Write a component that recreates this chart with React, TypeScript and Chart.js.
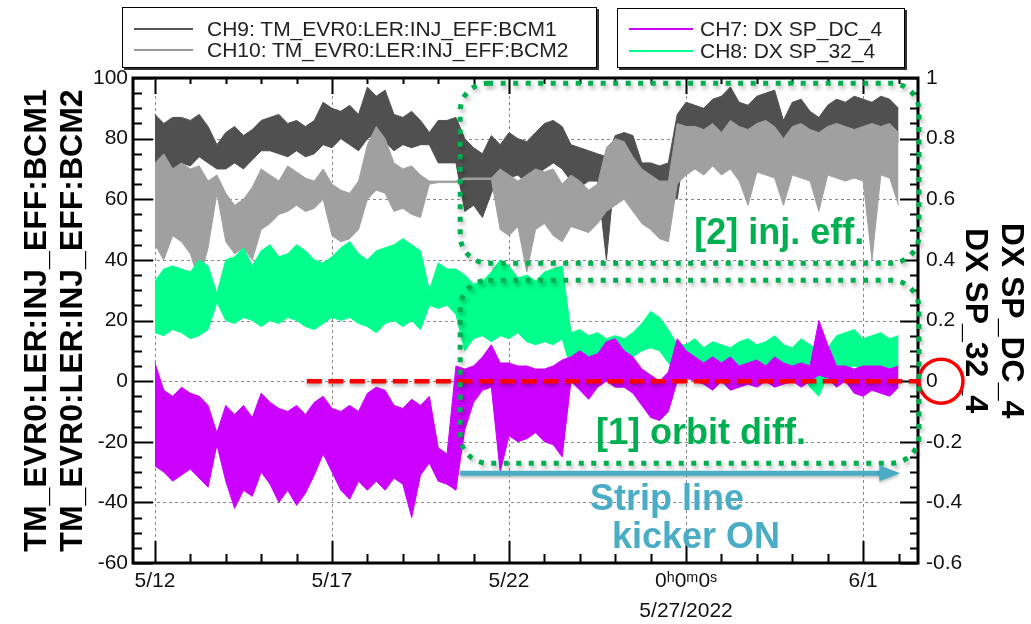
import React, { useEffect, useRef } from "react";
import { Chart, registerables } from "chart.js";

Chart.register(...registerables);

// ---- time bins: day offset from 5/12/2022 00:00, one bin every 6 h ----
const BIN_START_DAY = 0;
const BIN_STEP_DAY = 0.25;

// ---- CH9: TM_EVR0:LER:INJ_EFF:BCM1 (left axis, %) : per-bin max / min ----
const CH9_HI = [88, 85, 87, 87, 86, 88, 84, 78, 82, 84, 81, 83, 86, 87, 88, 85, 86, 84, 86, 92, 90, 89, 91, 88, 97, 94, 96, 88, 87, 89, 86, 82, 86, 86, 87, 80, 77, 75, 81, 78, 82, 80, 79, 82, 85, 86, 84, 78, 77, 76, 75, 74, 81, 82, 81, 72, 72, 71, 72, 88, 92, 91, 90, 93, 94, 97, 92, 91, 94, 95, 96, 86, 92, 93, 89, 87, 91, 93, 92, 94, 93, 92, 94, 93, 90];
const CH9_LO = [68, 66, 70, 72, 71, 74, 72, 70, 70, 72, 70, 73, 76, 76, 75, 74, 76, 74, 75, 78, 77, 80, 78, 76, 80, 82, 79, 76, 78, 77, 78, 78, 72, 72, 72, 56, 58, 54, 62, 68, 67, 68, 65, 68, 70, 72, 70, 66, 64, 66, 66, 40, 70, 74, 70, 66, 66, 64, 62, 60, 80, 80, 81, 80, 81, 82, 80, 79, 81, 80, 78, 74, 79, 80, 77, 76, 80, 81, 80, 81, 80, 81, 80, 79, 79];

// ---- CH10: TM_EVR0:LER:INJ_EFF:BCM2 (left axis, %) ----
const CH10_HI = [72, 75, 70, 72, 70, 71, 66, 68, 62, 58, 60, 64, 70, 68, 66, 71, 69, 67, 66, 70, 65, 63, 62, 66, 78, 84, 80, 72, 70, 71, 68, 66, 66, 66, 66, 67, 67, 67, 67, 70, 68, 66, 68, 70, 69, 70, 65, 68, 66, 63, 65, 77, 80, 79, 74, 70, 68, 66, 66, 85, 84, 84, 83, 85, 82, 86, 84, 83, 85, 86, 84, 80, 84, 85, 83, 82, 84, 85, 84, 83, 84, 85, 84, 85, 82];
const CH10_LO = [45, 40, 48, 46, 42, 33, 44, 62, 46, 42, 44, 40, 50, 52, 55, 56, 58, 56, 57, 60, 48, 46, 47, 50, 60, 63, 62, 56, 57, 55, 54, 65, 65.5, 65.5, 65.5, 66.5, 66.5, 66.5, 66.5, 50, 48, 51, 36, 50, 52, 48, 46, 51, 50, 49, 52, 56, 58, 60, 56, 52, 50, 47, 46, 65, 68, 70, 68, 71, 68, 70, 66, 58, 69, 68, 67, 58, 68, 67, 66, 56, 68, 67, 66, 67, 66, 40, 68, 67, 58];

// ---- CH7: DX SP_DC_4 (right axis) ----
const CH7_HI = [0.06, -0.03, -0.05, -0.02, -0.04, -0.05, -0.08, -0.17, -0.08, -0.11, -0.08, -0.12, -0.04, -0.07, -0.09, -0.10, -0.08, -0.11, -0.07, -0.05, -0.09, -0.10, -0.08, -0.10, -0.04, -0.02, -0.03, -0.08, -0.09, -0.06, -0.08, -0.05, -0.22, -0.24, 0.05, 0.04, 0.05, 0.08, 0.12, 0.06, 0.06, 0.05, 0.05, 0.04, 0.04, 0.05, 0.07, 0.08, 0.10, 0.08, 0.09, 0.13, 0.14, 0.10, 0.08, 0.04, 0.02, 0.00, 0.03, 0.14, 0.10, 0.08, 0.06, 0.08, 0.06, 0.08, 0.05, 0.06, 0.07, 0.05, 0.08, 0.06, 0.05, 0.06, 0.05, 0.20, 0.12, 0.05, 0.05, 0.04, 0.05, 0.05, 0.05, 0.04, 0.05];
const CH7_LO = [-0.28, -0.30, -0.33, -0.31, -0.29, -0.32, -0.35, -0.21, -0.33, -0.42, -0.36, -0.38, -0.30, -0.34, -0.40, -0.36, -0.41, -0.37, -0.31, -0.24, -0.30, -0.36, -0.39, -0.33, -0.36, -0.33, -0.36, -0.32, -0.34, -0.45, -0.31, -0.27, -0.33, -0.34, -0.36, -0.16, -0.07, -0.03, -0.02, -0.30, -0.18, -0.20, -0.19, -0.17, -0.20, -0.21, -0.25, 0.00, -0.03, -0.06, -0.02, 0.00, -0.02, -0.02, -0.04, -0.08, -0.12, -0.13, -0.10, 0.00, 0.01, 0.00, -0.01, -0.03, 0.00, -0.03, -0.02, -0.01, -0.02, 0.00, -0.02, -0.01, 0.00, -0.02, 0.00, 0.02, 0.01, -0.02, 0.00, -0.04, -0.05, -0.03, -0.04, -0.05, -0.02];

// ---- CH8: DX SP_32_4 (right axis) ----
const CH8_HI = [0.33, 0.37, 0.38, 0.37, 0.36, 0.40, 0.38, 0.29, 0.40, 0.41, 0.44, 0.38, 0.43, 0.45, 0.41, 0.42, 0.45, 0.43, 0.40, 0.39, 0.41, 0.44, 0.46, 0.42, 0.40, 0.43, 0.44, 0.45, 0.47, 0.45, 0.43, 0.30, 0.39, 0.37, 0.37, 0.35, 0.32, 0.33, 0.36, 0.40, 0.38, 0.34, 0.35, 0.33, 0.36, 0.37, 0.38, 0.16, 0.17, 0.15, 0.16, 0.14, 0.15, 0.14, 0.16, 0.19, 0.23, 0.21, 0.17, 0.12, 0.12, 0.14, 0.11, 0.13, 0.12, 0.11, 0.13, 0.14, 0.12, 0.13, 0.15, 0.12, 0.11, 0.14, 0.12, 0.10, 0.11, 0.15, 0.16, 0.17, 0.14, 0.15, 0.16, 0.14, 0.15];
const CH8_LO = [0.16, 0.15, 0.17, 0.16, 0.14, 0.15, 0.17, 0.26, 0.20, 0.19, 0.21, 0.20, 0.18, 0.20, 0.19, 0.21, 0.20, 0.18, 0.17, 0.19, 0.21, 0.20, 0.21, 0.19, 0.18, 0.16, 0.19, 0.20, 0.18, 0.20, 0.17, 0.25, 0.24, 0.25, 0.22, 0.10, 0.14, 0.15, 0.13, 0.15, 0.14, 0.16, 0.13, 0.12, 0.13, 0.12, 0.14, 0.04, 0.05, 0.05, 0.06, 0.04, 0.07, 0.06, 0.08, 0.10, 0.11, 0.10, 0.06, 0.03, 0.04, 0.05, 0.04, 0.06, 0.05, 0.03, 0.05, 0.04, 0.05, 0.03, 0.04, 0.05, 0.03, 0.04, -0.02, -0.05, 0.02, 0.05, 0.04, 0.05, 0.04, 0.05, 0.05, 0.04, 0.05];

// ---- axes ----
const X_MIN_DAY = -0.62;
const X_MAX_DAY = 21.55;
const X_TICK_DAYS = [0, 5, 10, 15, 20];
const X_TICK_LABELS: (string | string[])[] = ["5/12", "5/17", "5/22", ["0\u02B00\u1D500\u02E2", "5/27/2022"], "6/1"];
const X_MINOR_STEP = 1;
const Y_TICKS = [-60, -40, -20, 0, 20, 40, 60, 80, 100];
const Y_LABELS = ["-60", "-40", "-20", "0", "20", "40", "60", "80", "100"];
const Y_MINOR_STEP = 5;
const Y2_TICKS = [-0.6, -0.4, -0.2, 0, 0.2, 0.4, 0.6, 0.8, 1];
const Y2_LABELS = ["-0.6", "-0.4", "-0.2", "0", "0.2", "0.4", "0.6", "0.8", "1"];
const Y_TITLE = ["TM_EVR0:LER:INJ_EFF:BCM1", "TM_EVR0:LER:INJ_EFF:BCM2"];
const Y2_TITLE = ["DX SP_DC_4", "DX SP_32_4"];

// ---- annotations (data coordinates: day, left-axis value) ----
const RED_LINE_START_DAY = 4.29;
const KICKER_ON_DAY = 8.62;
const ARROW_END_DAY = 21.05;
const ARROW_VALUE = -30.4;
const BOX_INJ = { top: 98.3, bottom: 38.9 };
const BOX_ORBIT = { top: 33.3, bottom: -27.1 };
const TEXT_INJ = { day: 17.63, value: 48.5, text: "[2] inj. eff." };
const TEXT_ORBIT = { day: 15.42, value: -17.5, text: "[1] orbit diff." };
const TEXT_STRIP = { day: 14.46, value: -39.3, text: "Strip line" };
const TEXT_KICKER = { day: 15.28, value: -51.8, text: "kicker ON" };

const DGRAY = "#505050";
const LGRAY = "#a0a0a0";
const PURPLE = "#cc00ff";
const GREEN = "#00ff8c";
const ANN_GREEN = "#00b050";
const ANN_BLUE = "#4bacc6";
const FONT = '"Liberation Sans", Arial, Helvetica, sans-serif';

function roundRectPath(ctx: CanvasRenderingContext2D, x0: number, y0: number, x1: number, y1: number, r: number) {
  ctx.beginPath();
  ctx.moveTo(x0 + r, y0);
  ctx.lineTo(x1 - r, y0);
  ctx.arcTo(x1, y0, x1, y0 + r, r);
  ctx.lineTo(x1, y1 - r);
  ctx.arcTo(x1, y1, x1 - r, y1, r);
  ctx.lineTo(x0 + r, y1);
  ctx.arcTo(x0, y1, x0, y1 - r, r);
  ctx.lineTo(x0, y0 + r);
  ctx.arcTo(x0, y0, x0 + r, y0, r);
  ctx.closePath();
}

const framePlugin = {
  id: "framePlugin",
  beforeDatasetsDraw(chart: any) {
    const { ctx, chartArea: a, scales } = chart;
    const x = scales.x, y = scales.y;
    ctx.save();
    ctx.strokeStyle = "#8a8a8a";
    ctx.lineWidth = 1;
    ctx.setLineDash([3, 3]);
    X_TICK_DAYS.forEach((d) => {
      const px = Math.round(x.getPixelForValue(d)) + 0.5;
      ctx.beginPath(); ctx.moveTo(px, a.top); ctx.lineTo(px, a.bottom); ctx.stroke();
    });
    Y_TICKS.forEach((v) => {
      if (v <= y.min || v >= y.max) return;
      const py = Math.round(y.getPixelForValue(v)) + 0.5;
      ctx.beginPath(); ctx.moveTo(a.left, py); ctx.lineTo(a.right, py); ctx.stroke();
    });
    ctx.restore();
  },
  afterDatasetsDraw(chart: any) {
    const { ctx, chartArea: a, scales } = chart;
    const x = scales.x, y = scales.y;
    ctx.save();
    // ticks
    ctx.strokeStyle = "#000";
    ctx.lineWidth = 2;
    for (let v = y.min; v <= y.max + 1e-9; v += Y_MINOR_STEP) {
      const py = Math.round(y.getPixelForValue(v)) + 0.5;
      const major = Math.abs(v % 20) < 1e-9;
      const L = major ? 20 : 9;
      const R = major ? 18 : 8;
      ctx.beginPath();
      ctx.moveTo(a.left, py); ctx.lineTo(a.left + L, py);
      ctx.moveTo(a.right, py); ctx.lineTo(a.right - R, py);
      ctx.stroke();
    }
    for (let d = Math.ceil(X_MIN_DAY); d <= X_MAX_DAY; d += X_MINOR_STEP) {
      const px = Math.round(x.getPixelForValue(d)) + 0.5;
      const major = d % 5 === 0;
      ctx.beginPath();
      ctx.moveTo(px, a.bottom); ctx.lineTo(px, a.bottom - (major ? 22 : 9));
      ctx.moveTo(px, a.top); ctx.lineTo(px, a.top + (major ? 16 : 6));
      ctx.stroke();
    }
    // frame
    ctx.lineWidth = 3;
    ctx.strokeRect(a.left, a.top, a.right - a.left, a.bottom - a.top);

    // red dashed zero line
    const y0 = y.getPixelForValue(0);
    ctx.save();
    ctx.shadowColor = "rgba(0,0,0,0.35)";
    ctx.shadowBlur = 4;
    ctx.shadowOffsetY = 2;
    ctx.strokeStyle = "#ff0000";
    ctx.lineWidth = 4.5;
    ctx.setLineDash([15, 6.5]);
    ctx.beginPath();
    ctx.moveTo(x.getPixelForValue(RED_LINE_START_DAY), y0);
    ctx.lineTo(a.right, y0);
    ctx.stroke();
    ctx.restore();

    // red circle at zero of right axis
    ctx.strokeStyle = "#ff0000";
    ctx.lineWidth = 3.5;
    ctx.beginPath();
    ctx.arc(a.right + 23, y0, 22, 0, Math.PI * 2);
    ctx.stroke();

    // green dotted rounded boxes
    const bx0 = x.getPixelForValue(KICKER_ON_DAY);
    const bx1 = a.right + 1;
    ctx.save();
    ctx.shadowColor = "rgba(0,0,0,0.3)";
    ctx.shadowBlur = 4;
    ctx.shadowOffsetX = 2;
    ctx.shadowOffsetY = 3;
    ctx.strokeStyle = ANN_GREEN;
    ctx.lineWidth = 5;
    ctx.setLineDash([5, 7.5]);
    [BOX_INJ, BOX_ORBIT].forEach((b) => {
      roundRectPath(ctx, bx0, y.getPixelForValue(b.top), bx1, y.getPixelForValue(b.bottom), 28);
      ctx.stroke();
    });
    ctx.restore();

    // blue arrow
    const ay = y.getPixelForValue(ARROW_VALUE);
    const ax0 = x.getPixelForValue(KICKER_ON_DAY);
    const ax1 = x.getPixelForValue(ARROW_END_DAY);
    ctx.save();
    ctx.shadowColor = "rgba(0,0,0,0.25)";
    ctx.shadowBlur = 3;
    ctx.shadowOffsetY = 2;
    ctx.strokeStyle = ANN_BLUE;
    ctx.fillStyle = ANN_BLUE;
    ctx.lineWidth = 5;
    ctx.beginPath();
    ctx.moveTo(ax0, ay); ctx.lineTo(ax1 - 18, ay); ctx.stroke();
    ctx.beginPath();
    ctx.moveTo(ax1, ay); ctx.lineTo(ax1 - 21, ay - 8); ctx.lineTo(ax1 - 21, ay + 8); ctx.closePath();
    ctx.fill();
    ctx.restore();

    // annotation texts
    ctx.font = `bold 36px ${FONT}`;
    ctx.textAlign = "center";
    ctx.textBaseline = "middle";
    ctx.fillStyle = ANN_GREEN;
    [TEXT_INJ, TEXT_ORBIT].forEach((t) => ctx.fillText(t.text, x.getPixelForValue(t.day), y.getPixelForValue(t.value)));
    ctx.fillStyle = ANN_BLUE;
    [TEXT_STRIP, TEXT_KICKER].forEach((t) => ctx.fillText(t.text, x.getPixelForValue(t.day), y.getPixelForValue(t.value)));
    ctx.restore();
  },
};

const legendRow = (top: number, lineLeft: number, lineWidth: number, textLeft: number, color: string, label: string) => (
  <div key={label}>
    <div style={{ position: "absolute", left: lineLeft, top: top - 1, width: lineWidth, height: 2, background: color }} />
    <div style={{ position: "absolute", left: textLeft, top: top - 13, height: 26, lineHeight: "26px", fontSize: 21, color: "#222", whiteSpace: "nowrap" }}>{label}</div>
  </div>
);

export default function App() {
  const ref = useRef<HTMLCanvasElement>(null);
  useEffect(() => {
    document.body.style.margin = "0";
    const days = CH9_HI.map((_, i) => BIN_START_DAY + i * BIN_STEP_DAY);
    const pts = (arr: number[]) => arr.map((v, i) => ({ x: days[i], y: v }));
    const ds = (data: number[], color: string, axis: string, fill: any, order: number) => ({
      data: pts(data), borderColor: color, backgroundColor: color, borderWidth: 1,
      pointRadius: 0, fill, order, yAxisID: axis, tension: 0,
    });
    const tickFont = { family: FONT, size: 21 };
    const chart = new Chart(ref.current as HTMLCanvasElement, {
      type: "line",
      data: {
        datasets: [
          ds(CH7_HI, PURPLE, "y2", "+1", 1), ds(CH7_LO, PURPLE, "y2", false, 1),
          ds(CH8_HI, GREEN, "y2", "+1", 2), ds(CH8_LO, GREEN, "y2", false, 2),
          ds(CH10_HI, LGRAY, "y", "+1", 3), ds(CH10_LO, LGRAY, "y", false, 3),
          ds(CH9_HI, DGRAY, "y", "+1", 4), ds(CH9_LO, DGRAY, "y", false, 4),
        ] as any,
      },
      options: {
        responsive: false,
        animation: false,
        layout: { padding: { top: 78, left: 0, right: 0, bottom: 0 } },
        plugins: { legend: { display: false }, tooltip: { enabled: false }, filler: { propagate: false } } as any,
        scales: {
          x: {
            type: "linear", min: X_MIN_DAY, max: X_MAX_DAY,
            afterBuildTicks: (s: any) => { s.ticks = X_TICK_DAYS.map((v) => ({ value: v })); },
            afterFit: (s: any) => { s.height = 61; },
            grid: { display: false, drawTicks: false, tickLength: 0 },
            border: { display: false },
            ticks: {
              autoSkip: false, maxRotation: 0, minRotation: 0, padding: 3, color: "#111",
              font: { ...tickFont, lineHeight: 1.45 },
              callback: (v: any) => { const i = X_TICK_DAYS.indexOf(Number(v)); return i >= 0 ? X_TICK_LABELS[i] : ""; },
            },
          },
          y: {
            type: "linear", position: "left", min: -60, max: 100,
            afterBuildTicks: (s: any) => { s.ticks = Y_TICKS.map((v) => ({ value: v })); },
            afterFit: (s: any) => { s.width = 133; },
            grid: { display: false, drawTicks: false, tickLength: 0 },
            border: { display: false },
            ticks: { autoSkip: false, padding: 5, color: "#111", font: tickFont, callback: (_v: any, i: number) => Y_LABELS[i] },
            title: { display: true, text: Y_TITLE, color: "#000", font: { family: FONT, size: 32, weight: "bold", lineHeight: 1.1 }, padding: { top: 20, bottom: 0 } },
          },
          y2: {
            type: "linear", position: "right", min: -0.6, max: 1,
            afterBuildTicks: (s: any) => { s.ticks = Y2_TICKS.map((v) => ({ value: v })); },
            afterFit: (s: any) => { s.width = 113; },
            grid: { display: false, drawTicks: false, tickLength: 0 },
            border: { display: false },
            ticks: { autoSkip: false, padding: 8, color: "#111", font: tickFont, callback: (_v: any, i: number) => Y2_LABELS[i] },
            title: { display: true, text: Y2_TITLE, color: "#000", font: { family: FONT, size: 32, weight: "bold", lineHeight: 1.1 }, padding: { top: 3, bottom: 0 } },
          },
        } as any,
      },
      plugins: [framePlugin],
    });
    return () => chart.destroy();
  }, []);

  return (
    <div style={{ position: "relative", width: 1031, height: 624, fontFamily: FONT, background: "#fff" }}>
      <canvas ref={ref} width={1031} height={624} style={{ position: "absolute", left: 0, top: 0 }} />
      <div style={{ position: "absolute", left: 122, top: 7, width: 473, height: 59, border: "1px solid #000", boxShadow: "2px 2px 0 #333", background: "#fff" }}>
        {legendRow(21, 11, 59, 84, "#555", "CH9: TM_EVR0:LER:INJ_EFF:BCM1")}
        {legendRow(42, 11, 59, 84, "#999", "CH10: TM_EVR0:LER:INJ_EFF:BCM2")}
      </div>
      <div style={{ position: "absolute", left: 617, top: 8, width: 286, height: 58, border: "1px solid #000", boxShadow: "2px 2px 0 #333", background: "#fff" }}>
        {legendRow(20, 11, 64, 82, PURPLE, "CH7: DX SP_DC_4")}
        {legendRow(42, 11, 64, 82, GREEN, "CH8: DX SP_32_4")}
      </div>
    </div>
  );
}
